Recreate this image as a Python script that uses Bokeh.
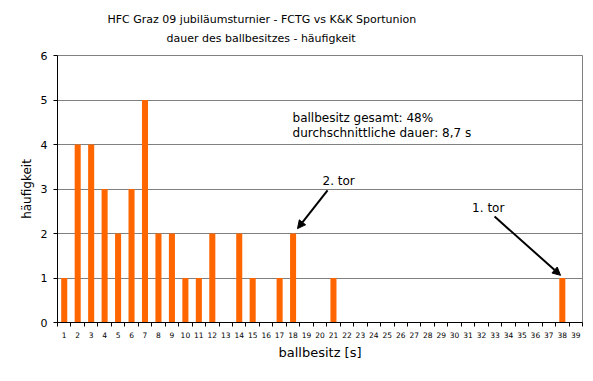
from bokeh.plotting import figure
from bokeh.models import Label, Arrow, NormalHead, FixedTicker, ColumnDataSource, Range1d, Title
from bokeh.embed import file_html
from bokeh.resources import INLINE

# data
seconds = list(range(1, 40))
counts = [1, 4, 4, 3, 2, 3, 5, 2, 2, 1,
          1, 2, 0, 2, 1, 0, 1, 2, 0, 0,
          1, 0, 0, 0, 0, 0, 0, 0, 0, 0,
          0, 0, 0, 0, 0, 0, 0, 1, 0]
tick_labels = [str(s) for s in seconds]
title_line1 = "HFC Graz 09 jubiläumsturnier - FCTG vs K&K Sportunion"
title_line2 = "dauer des ballbesitzes - häufigkeit"
stats_line1 = "ballbesitz gesamt: 48%"
stats_line2 = "durchschnittliche dauer: 8,7 s"
goal2_label = "2. tor"
goal1_label = "1. tor"
goal2_second = 18
goal1_second = 38

FONT = "DejaVu Sans"
ORANGE = "#FF6600"
GRID = "#808080"

src = ColumnDataSource(dict(x=seconds, top=counts))

p = figure(width=585, height=373, output_backend="svg", toolbar_location=None,
           x_range=Range1d(0.5, 39.5), y_range=Range1d(0, 6),
           min_border_left=57, min_border_right=3, min_border_top=55, min_border_bottom=51)
p.background_fill_color = "white"
p.border_fill_color = "white"
p.outline_line_color = GRID
p.outline_line_width = 1

p.vbar(x="x", top="top", width=0.45, source=src, fill_color=ORANGE, line_color=None)

# titles (added nearest-first); first one is an empty spacer
p.add_layout(Title(text=" ", align="left", text_font=FONT, text_font_size="6px",
                   standoff=0), "above")
p.add_layout(Title(text=title_line2, align="left", offset=109, text_font=FONT,
                   text_font_size="11px", text_font_style="normal", text_color="black",
                   standoff=4), "above")
p.add_layout(Title(text=title_line1, align="left", offset=50, text_font=FONT,
                   text_font_size="11px", text_font_style="normal", text_color="black",
                   standoff=4), "above")

# axes
p.xaxis.ticker = FixedTicker(ticks=seconds, minor_ticks=[s - 0.5 for s in seconds] + [39.5])
p.xaxis.major_label_overrides = {s: l for s, l in zip(seconds, tick_labels)}
p.xaxis.major_tick_out = 0
p.xaxis.major_tick_in = 0
p.xaxis.minor_tick_out = 4
p.xaxis.minor_tick_in = 0
p.xaxis.minor_tick_line_color = "black"
p.xaxis.axis_line_color = "black"
p.xaxis.major_label_text_font = FONT
p.xaxis.major_label_text_font_size = "7.5px"
p.xaxis.major_label_text_color = "black"
p.xaxis.major_label_standoff = 5
p.xaxis.axis_label = "ballbesitz [s]"
p.xaxis.axis_label_text_font = FONT
p.xaxis.axis_label_text_font_size = "13px"
p.xaxis.axis_label_text_font_style = "normal"
p.xaxis.axis_label_text_color = "black"
p.xaxis.axis_label_standoff = 4

p.yaxis.ticker = FixedTicker(ticks=[0, 1, 2, 3, 4, 5, 6], minor_ticks=[])
p.yaxis.major_tick_out = 4
p.yaxis.major_tick_in = 0
p.yaxis.major_tick_line_color = "black"
p.yaxis.axis_line_color = "black"
p.yaxis.major_label_text_font = FONT
p.yaxis.major_label_text_font_size = "11px"
p.yaxis.major_label_text_color = "black"
p.yaxis.major_label_standoff = 6
p.yaxis.axis_label = "häufigkeit"
p.yaxis.axis_label_text_font = FONT
p.yaxis.axis_label_text_font_size = "12px"
p.yaxis.axis_label_text_font_style = "normal"
p.yaxis.axis_label_text_color = "black"
p.yaxis.axis_label_standoff = 4

p.xgrid.grid_line_color = None
p.ygrid.grid_line_color = GRID
p.ygrid.grid_line_width = 1

# stats text
for txt, y in [(stats_line1, 4.76), (stats_line2, 4.42)]:
    p.add_layout(Label(x=17.96, y=y, text=txt, text_align="left", text_baseline="top",
                       text_font=FONT, text_font_size="12px", text_color="black"))

# goal annotations
p.add_layout(Label(x=20.19, y=3.33, text=goal2_label, text_align="left", text_baseline="top",
                   text_font=FONT, text_font_size="12px", text_color="black"))
p.add_layout(Label(x=31.3, y=2.73, text=goal1_label, text_align="left", text_baseline="top",
                   text_font=FONT, text_font_size="12px", text_color="black"))

p.add_layout(Arrow(end=NormalHead(size=8, fill_color="black", line_color="black"),
                   x_start=20.56, y_start=2.97, x_end=goal2_second + 0.33, y_end=2.11,
                   line_color="black", line_width=2))
p.add_layout(Arrow(end=NormalHead(size=8, fill_color="black", line_color="black"),
                   x_start=32.97, y_start=2.38, x_end=goal1_second - 0.13, y_end=1.06,
                   line_color="black", line_width=2))

open("out.html", "w").write(file_html(p, INLINE))
